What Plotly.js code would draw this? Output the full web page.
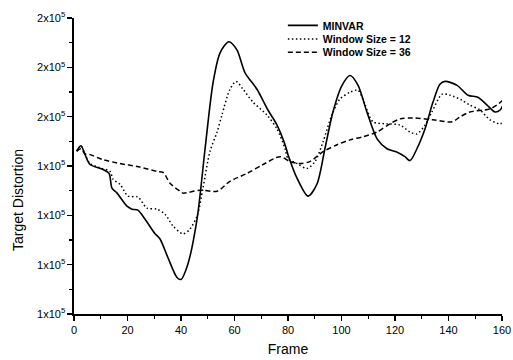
<!DOCTYPE html>
<html>
<head>
<meta charset="utf-8">
<script src="https://cdn.plot.ly/plotly-3.0.1.min.js"></script>
<style>html,body{margin:0;padding:0;background:#fff;}#chart{width:513px;height:360px;}</style>
</head>
<body>
<div id="chart"></div>
<script>
const minvarFrames = [1, 2.6, 4, 6, 10.8, 13.1, 14.2, 16.1, 19.8, 21.7, 23.9, 26.5, 30.3, 32.1, 35.1, 38.5, 40, 42.5, 46, 49, 52, 54.6, 57.9, 60.9, 63.9, 68.4, 72.5, 75.9, 78.9, 80, 83.4, 87.5, 90.8, 93.8, 96.8, 100.2, 103.2, 106.2, 109.5, 113.3, 117, 121, 123.7, 125.6, 128.2, 131.2, 134.2, 136.8, 138.7, 143.2, 147.3, 151, 154.4, 157.4, 159.3, 160.5];
const minvarValues = [146000, 148200, 145000, 140600, 138600, 137000, 131000, 129000, 123700, 122500, 122100, 118500, 112500, 110500, 102900, 94800, 94000, 100000, 118500, 147000, 173900, 185900, 190400, 187100, 177900, 171100, 162700, 156600, 148600, 144600, 135000, 127800, 132600, 147000, 161900, 172700, 176700, 172700, 161900, 151000, 147000, 145500, 143800, 142200, 147000, 155000, 165900, 173100, 174300, 172700, 168700, 167900, 164700, 161900, 162700, 165000];

const win12Frames = [1, 2.6, 4, 6, 10.5, 13.5, 14.6, 17.2, 20.2, 23.9, 27.3, 31, 34, 37, 40.7, 43, 46, 48.2, 50.8, 53.5, 55.3, 58.3, 60.6, 63.2, 66.9, 72.1, 75.9, 78.9, 80, 83.4, 87.1, 90.1, 93.1, 96.4, 99.4, 103.2, 106.2, 108.8, 111.8, 117, 121.9, 125.6, 128.2, 131.2, 133.8, 137.6, 140.6, 145, 148, 151.8, 155.5, 159.3, 160.5];
const win12Values = [146000, 148200, 145000, 141000, 139000, 137800, 134600, 132600, 127800, 127400, 122900, 122500, 120500, 115700, 112500, 114000, 119700, 131000, 145800, 153800, 160700, 171100, 174300, 171100, 165900, 160700, 155000, 147000, 143000, 141000, 139000, 141800, 149800, 160700, 167100, 169900, 170700, 164700, 157900, 157100, 156600, 153800, 153000, 156600, 161900, 169100, 168700, 166700, 164700, 162700, 158700, 157100, 158000];

const win36Frames = [1, 2.6, 4, 6, 10.8, 17.2, 23.6, 31, 33.3, 35.9, 39.6, 40.7, 47.1, 53.5, 58.3, 64.7, 70.7, 77, 80.7, 84.5, 88.2, 93.1, 98.3, 103.2, 108, 113.3, 118.1, 121.9, 126.7, 134.2, 141.3, 144.3, 148, 155.5, 158.1, 160.4];
const win36Values = [146000, 147000, 145000, 144600, 142600, 141000, 139800, 137800, 137400, 133000, 129800, 129000, 130200, 129800, 133800, 137000, 140600, 143800, 141800, 141000, 141800, 145800, 148600, 150600, 151800, 153800, 157100, 159100, 159500, 158700, 157900, 159900, 161900, 163100, 164700, 166700];

const seriesNames = ['MINVAR', 'Window Size = 12', 'Window Size = 36'];
const yTickValues = [80000, 100000, 120000, 140000, 160000, 180000, 200000];
const yTickLabels = ['1x10<sup>5</sup>', '1x10<sup>5</sup>', '1x10<sup>5</sup>', '1x10<sup>5</sup>', '2x10<sup>5</sup>', '2x10<sup>5</sup>', '2x10<sup>5</sup>'];
const xTickValues = [0, 20, 40, 60, 80, 100, 120, 140, 160];
const yAxisTitle = 'Target Distortion';
const xAxisTitle = 'Frame';

const FONT = 'Liberation Sans, Arial, sans-serif';
const traces = [
  {x: minvarFrames, y: minvarValues, name: seriesNames[0], mode: 'lines', legend: 'legend',
   line: {color: '#000', width: 1.6, shape: 'spline', smoothing: 0.8}},
  {x: win12Frames, y: win12Values, name: seriesNames[1], mode: 'lines', legend: 'legend2',
   line: {color: '#000', width: 1.5, dash: '1.5px,2.5px', shape: 'spline', smoothing: 0.8}},
  {x: win36Frames, y: win36Values, name: seriesNames[2], mode: 'lines', legend: 'legend3',
   line: {color: '#000', width: 1.5, dash: '5px,3px', shape: 'spline', smoothing: 0.8}}
];

function legendAt(yc) {
  return {x: 0.488, y: yc, xanchor: 'left', yanchor: 'middle', bgcolor: 'rgba(0,0,0,0)',
          borderwidth: 0, font: {family: FONT, size: 10.5, color: '#000', weight: 'bold'},
          itemwidth: 30};
}

const layout = {
  width: 513, height: 360,
  margin: {l: 74, r: 11, t: 15, b: 46},
  paper_bgcolor: '#fff', plot_bgcolor: '#fff',
  font: {family: FONT, color: '#000'},
  showlegend: true,
  legend: legendAt(0.975),
  legend2: legendAt(0.929),
  legend3: legendAt(0.884),
  xaxis: {
    range: [0, 160], tickvals: xTickValues, ticktext: xTickValues.map(String),
    showgrid: false, zeroline: false, showline: true, linecolor: '#000', linewidth: 1.6,
    ticks: 'outside', ticklen: 5, tickwidth: 1.3, tickcolor: '#000',
    tickfont: {family: FONT, size: 11, color: '#000'},
    minor: {dtick: 10, tick0: 0, ticks: 'outside', ticklen: 3, tickwidth: 1.2, tickcolor: '#000', showgrid: false},
    title: {text: xAxisTitle, font: {family: FONT, size: 14, color: '#000'}, standoff: 9}
  },
  yaxis: {
    range: [80000, 200000], tickvals: yTickValues, ticktext: yTickLabels,
    showgrid: false, zeroline: false, showline: true, linecolor: '#000', linewidth: 1.6,
    ticks: 'outside', ticklen: 5, tickwidth: 1.3, tickcolor: '#000',
    tickfont: {family: FONT, size: 11, color: '#000'},
    minor: {dtick: 10000, tick0: 0, ticks: 'outside', ticklen: 3, tickwidth: 1.2, tickcolor: '#000', showgrid: false}
  },
  annotations: [
    {text: yAxisTitle, xref: 'paper', yref: 'paper', x: -0.131, y: 0.385,
     xanchor: 'center', yanchor: 'middle', textangle: -90, showarrow: false,
     font: {family: FONT, size: 14, color: '#000'}}
  ]
};

Plotly.newPlot('chart', traces, layout, {displayModeBar: false, staticPlot: true});
</script>
</body>
</html>
